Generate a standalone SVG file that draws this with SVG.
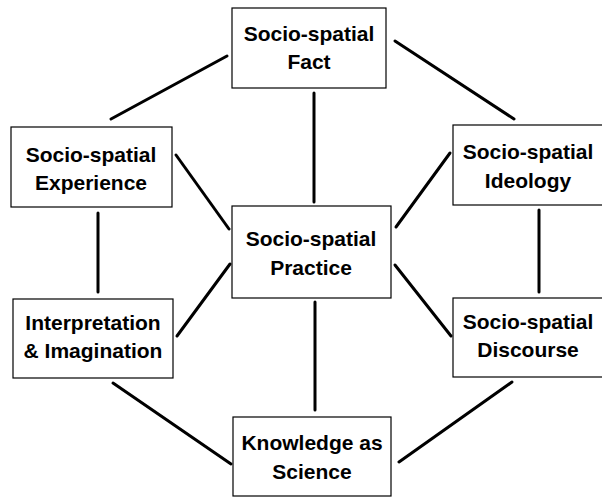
<svg xmlns="http://www.w3.org/2000/svg" width="602" height="497" viewBox="0 0 602 497">
<style>
  .box { fill: #fff; stroke: #000; stroke-width: 1.2; }
  .lbl { font-family: "Liberation Sans", Arial, sans-serif; font-size: 21px; font-weight: bold; fill: #000; text-anchor: middle; }
  .conn line { stroke: #000; stroke-width: 3; stroke-linecap: round; }
</style>
<rect width="602" height="497" fill="#fff"/>
<g id="connectors" class="conn">
  <line x1="227" y1="56" x2="111" y2="119"/>
  <line x1="395" y1="41" x2="514" y2="119"/>
  <line x1="314" y1="93" x2="314" y2="202"/>
  <line x1="176" y1="155" x2="229" y2="229"/>
  <line x1="450" y1="153" x2="396" y2="227"/>
  <line x1="98" y1="213" x2="98" y2="292"/>
  <line x1="539" y1="210" x2="539" y2="292"/>
  <line x1="177" y1="336" x2="230" y2="264"/>
  <line x1="451" y1="336" x2="395" y2="265"/>
  <line x1="315" y1="302" x2="315" y2="410"/>
  <line x1="113" y1="383" x2="231" y2="464"/>
  <line x1="512" y1="382" x2="399" y2="462"/>
</g>
<g id="fact">
  <rect class="box" x="232" y="8" width="154" height="80"/>
  <text class="lbl" x="309" y="41">Socio-spatial</text>
  <text class="lbl" x="309" y="69">Fact</text>
</g>
<g id="experience">
  <rect class="box" x="11" y="127" width="161" height="80"/>
  <text class="lbl" x="91" y="162">Socio-spatial</text>
  <text class="lbl" x="91" y="190">Experience</text>
</g>
<g id="ideology">
  <rect class="box" x="453" y="125" width="152" height="80"/>
  <text class="lbl" x="528" y="159">Socio-spatial</text>
  <text class="lbl" x="528" y="188">Ideology</text>
</g>
<g id="practice">
  <rect class="box" x="232" y="206" width="159" height="92"/>
  <text class="lbl" x="311" y="246">Socio-spatial</text>
  <text class="lbl" x="311" y="275">Practice</text>
</g>
<g id="interpretation">
  <rect class="box" x="13" y="299" width="160" height="79"/>
  <text class="lbl" x="93" y="330">Interpretation</text>
  <text class="lbl" x="93" y="358">&amp; Imagination</text>
</g>
<g id="discourse">
  <rect class="box" x="453" y="298" width="152" height="79"/>
  <text class="lbl" x="528" y="329">Socio-spatial</text>
  <text class="lbl" x="528" y="357">Discourse</text>
</g>
<g id="knowledge">
  <rect class="box" x="233" y="417" width="158" height="79"/>
  <text class="lbl" x="312" y="450">Knowledge as</text>
  <text class="lbl" x="312" y="479">Science</text>
</g>
</svg>
